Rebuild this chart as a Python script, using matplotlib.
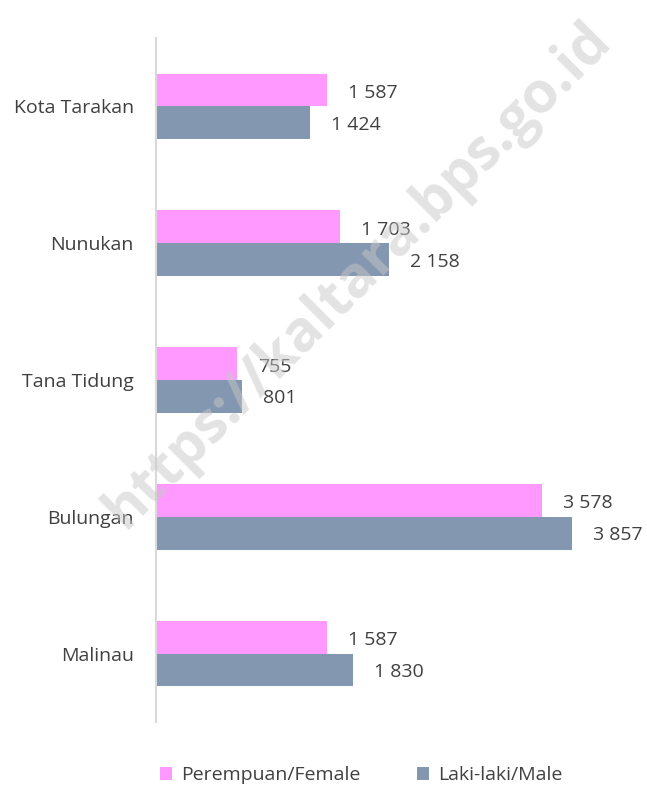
import matplotlib.pyplot as plt
import numpy as np

regions = ['Kota Tarakan', 'Nunukan', 'Tana Tidung', 'Bulungan', 'Malinau']
female = [1587, 1703, 755, 3578, 1587]
male = [1424, 2158, 801, 3857, 1830]

pink = '#ff99ff'
grey = '#8497b0'
txt = '#404040'

plt.rcParams['font.family'] = ['Open Sans', 'DejaVu Sans']

W, H = 647, 790
fig = plt.figure(figsize=(W / 100, H / 100), dpi=100)
ax = fig.add_axes([156 / W, 68 / H, (640 - 156) / W, (722 - 38) / H])

y = np.arange(len(regions))
h = 0.24
ax.barh(y - h / 2, female, height=h, color=pink, label='Perempuan/Female')
ax.barh(y + h / 2, male, height=h, color=grey, label='Laki-laki/Male')

for yi, v in zip(y, female):
    ax.annotate(f'{v:,}'.replace(',', ' '), (v, yi - h / 2), xytext=(21, -3),
                textcoords='offset pixels', va='center', ha='left',
                fontsize=14, color=txt)
for yi, v in zip(y, male):
    ax.annotate(f'{v:,}'.replace(',', ' '), (v, yi + h / 2), xytext=(21, -2),
                textcoords='offset pixels', va='center', ha='left',
                fontsize=14, color=txt)

ax.set_xlim(0, (640 - 156) / 0.1079)
ax.set_ylim(len(regions) - 0.5, -0.5)
ax.set_yticks(y)
ax.set_yticklabels(regions, fontsize=14, color=txt)
ax.tick_params(axis='y', length=0, pad=16)
ax.set_xticks([])
for s in ['top', 'right', 'bottom']:
    ax.spines[s].set_visible(False)
ax.spines['left'].set_color('#d9d9d9')
ax.spines['left'].set_linewidth(1.5)

fig.legend(loc='center', bbox_to_anchor=(361 / W, 1 - 775 / H), ncol=2,
           frameon=False, fontsize=14, handlelength=0.65, handleheight=0.65,
           handletextpad=0.45, columnspacing=2.9, labelcolor=txt)

# watermark
fig.text(358 / W, 1 - 275 / H, 'https://kaltara.bps.go.id', rotation=45,
         ha='center', va='center', fontsize=41, fontweight='bold',
         color='#c8c8c8', alpha=0.5, zorder=10)

fig.savefig('out.png', dpi=100)
